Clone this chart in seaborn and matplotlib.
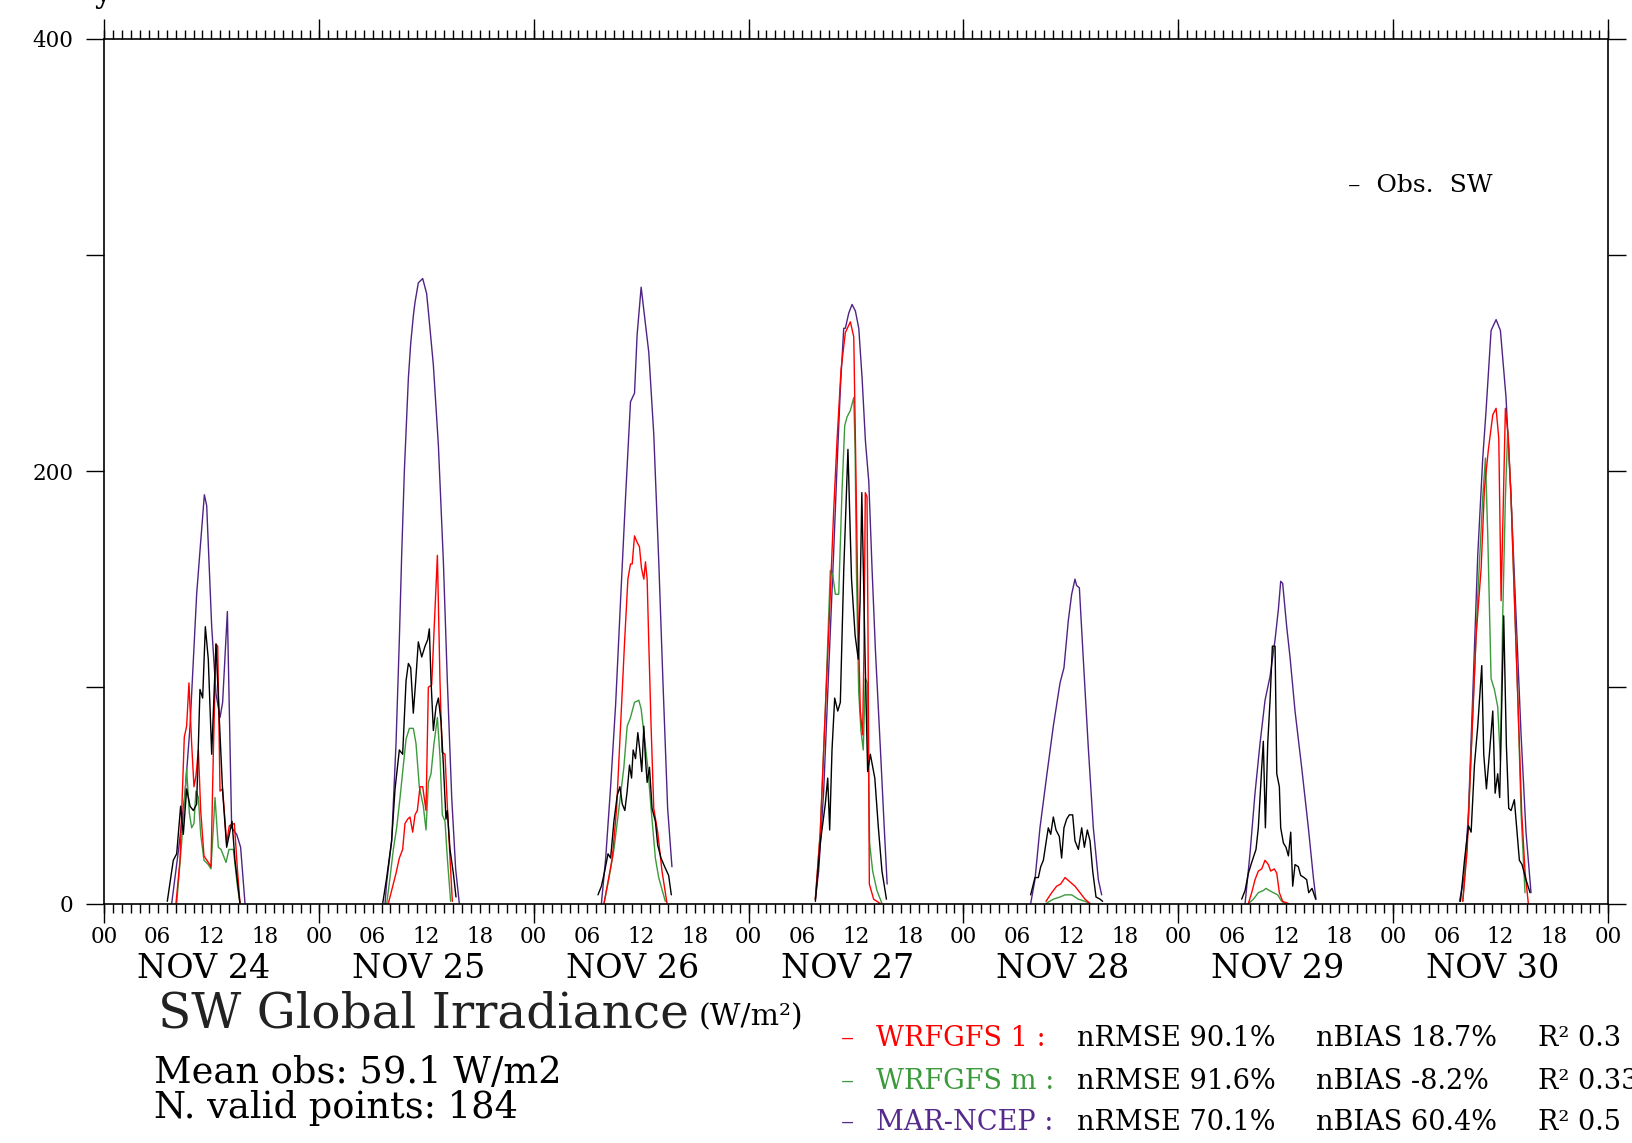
import numpy as np
import pandas as pd
import matplotlib
matplotlib.use("Agg")
import matplotlib.pyplot as plt
import matplotlib.transforms as mtransforms
from matplotlib.ticker import MultipleLocator, FuncFormatter
import seaborn as sns

# ---------------- data (hours within each day, values in W/m2) ----------------
day_labels = ["NOV 24", "NOV 25", "NOV 26", "NOV 27", "NOV 28", "NOV 29", "NOV 30"]
series_names = ["MAR-NCEP", "WRFGFS m", "WRFGFS 1", "Obs. SW"]

obs_hours = [
    [7.07, 7.74, 8.12, 8.56, 8.86, 9.23, 9.61, 9.98, 10.35, 10.72, 11.02, 11.32, 11.65, 12.03, 12.51, 12.84, 13.25, 13.7, 14.0, 14.3, 14.63, 15.19],
    [7.13, 7.58, 8.13, 8.51, 8.99, 9.36, 9.74, 10.0, 10.26, 10.55, 10.82, 11.11, 11.49, 11.86, 12.16, 12.34, 12.53, 12.79, 13.09, 13.35, 13.65, 13.91, 14.2, 14.35, 14.65, 15.02, 15.32],
    [7.18, 7.56, 7.93, 8.3, 8.59, 8.96, 9.33, 9.63, 9.89, 10.18, 10.44, 10.7, 10.93, 11.11, 11.37, 11.63, 11.85, 12.07, 12.3, 12.48, 12.67, 12.93, 13.22, 13.59, 13.85, 14.22, 14.63, 15.07, 15.37],
    [7.46, 8.01, 8.57, 8.84, 9.06, 9.32, 9.62, 9.96, 10.25, 10.63, 11.1, 11.5, 11.9, 12.25, 12.45, 12.65, 13.0, 13.3, 13.6, 14.1, 14.5, 14.9, 15.4],
    [7.51, 7.99, 8.37, 8.63, 8.93, 9.22, 9.48, 9.75, 10.04, 10.34, 10.71, 10.97, 11.23, 11.53, 11.83, 12.2, 12.46, 12.84, 13.21, 13.51, 13.84, 14.14, 14.44, 14.81, 15.26, 15.55],
    [7.08, 7.46, 7.83, 8.2, 8.68, 8.94, 9.32, 9.5, 9.73, 9.99, 10.25, 10.51, 10.81, 11.0, 11.29, 11.44, 11.74, 12.03, 12.3, 12.56, 12.78, 13.04, 13.41, 13.67, 14.05, 14.34, 14.57, 14.94, 15.35],
    [7.52, 7.97, 8.41, 8.71, 9.08, 9.45, 9.9, 10.12, 10.42, 10.75, 11.13, 11.39, 11.68, 11.9, 12.35, 12.65, 12.91, 13.17, 13.54, 13.84, 14.1, 14.4, 14.77, 15.29],
]
obs_values = [
    [1, 20, 23, 45, 32, 53, 45, 43, 46, 99, 95, 128, 113, 69, 120, 89, 52, 26, 32, 38, 20, 0],
    [0, 12, 29, 53, 71, 69, 103, 111, 109, 88, 103, 121, 114, 119, 122, 127, 103, 80, 91, 95, 84, 64, 39, 43, 25, 14, 3],
    [4, 8, 15, 23, 21, 38, 50, 54, 46, 43, 52, 64, 58, 71, 67, 79, 71, 61, 82, 67, 56, 63, 44, 38, 27, 21, 17, 13, 4],
    [1, 28, 46, 58, 34, 71, 95, 89, 93, 154, 210, 150, 124, 113, 139, 190, 117, 61, 69, 58, 35, 15, 2],
    [4, 12, 12, 17, 20, 28, 35, 32, 40, 34, 31, 21, 35, 39, 41, 41, 29, 25, 35, 26, 34, 29, 15, 3, 2, 1],
    [2, 6, 14, 19, 25, 35, 63, 75, 35, 74, 94, 119, 119, 60, 54, 35, 28, 26, 22, 33, 8, 18, 17, 13, 12, 11, 5, 7, 2],
    [1, 20, 36, 33, 64, 82, 110, 69, 53, 69, 89, 51, 60, 49, 133, 73, 44, 43, 48, 33, 20, 18, 12, 5],
]

wrf1_hours = [
    [8.04, 8.49, 8.97, 9.23, 9.49, 9.79, 10.05, 10.27, 10.54, 10.8, 11.17, 11.65, 11.95, 12.21, 12.51, 12.7, 12.96, 13.25, 13.7, 14.0, 14.56, 14.9, 15.19],
    [7.76, 8.13, 8.62, 8.99, 9.36, 9.62, 9.92, 10.18, 10.48, 10.74, 11.0, 11.3, 11.6, 11.97, 12.23, 12.6, 13.24, 13.53, 13.76, 14.09, 14.35, 14.65, 14.91],
    [7.85, 8.3, 8.78, 9.26, 9.7, 10.15, 10.52, 10.81, 11.0, 11.26, 11.55, 11.81, 12.04, 12.3, 12.48, 12.67, 12.85, 13.11, 13.41, 13.85, 14.33, 14.89],
    [7.46, 8.01, 8.57, 9.06, 9.51, 9.88, 10.33, 10.81, 11.37, 11.75, 11.95, 12.22, 12.48, 12.74, 12.89, 13.04, 13.23, 13.34, 13.49, 13.97, 14.7],
    [9.22, 9.86, 10.41, 10.86, 11.35, 11.9, 12.46, 13.02, 13.58, 14.14],
    [7.83, 8.2, 8.57, 8.94, 9.32, 9.69, 10.06, 10.32, 10.73, 11.0, 11.29, 11.66, 12.3],
    [7.78, 8.26, 8.71, 9.27, 9.83, 10.2, 10.64, 11.13, 11.5, 11.8, 12.06, 12.32, 12.54, 12.87, 13.17, 13.54, 13.91, 14.36, 14.73, 15.1],
]
wrf1_values = [
    [0, 20, 77, 82, 102, 74, 54, 59, 71, 43, 22, 19, 17, 69, 120, 119, 52, 53, 28, 36, 37, 16, 0],
    [0, 6, 14, 21, 25, 37, 39, 40, 33, 41, 43, 54, 54, 43, 100, 101, 161, 103, 70, 69, 45, 21, 1],
    [0, 10, 21, 44, 82, 121, 150, 157, 157, 170, 167, 165, 155, 150, 158, 150, 121, 82, 44, 33, 15, 0],
    [2, 33, 89, 136, 182, 214, 247, 264, 269, 262, 210, 136, 89, 78, 117, 190, 188, 126, 9, 2, 0],
    [1, 5, 8, 9, 12, 10, 8, 5, 2, 0],
    [0, 5, 11, 15, 16, 20, 18, 15, 16, 14, 5, 1, 0],
    [1, 24, 69, 124, 155, 192, 210, 226, 229, 215, 140, 188, 229, 215, 188, 142, 97, 42, 15, 0],
]

wrfm_hours = [
    [8.12, 8.67, 9.23, 9.53, 9.79, 10.05, 10.27, 10.54, 10.8, 11.17, 11.65, 11.95, 12.4, 12.77, 13.07, 13.63, 13.96, 14.45, 14.9, 15.19],
    [7.58, 7.95, 8.32, 8.69, 9.07, 9.44, 9.74, 10.11, 10.55, 10.85, 11.22, 11.67, 11.97, 12.23, 12.53, 12.86, 13.24, 13.53, 13.79, 14.09, 14.35, 14.72],
    [7.85, 8.41, 8.96, 9.52, 10.07, 10.44, 10.81, 11.26, 11.74, 12.0, 12.3, 12.74, 13.11, 13.59, 13.96, 14.7],
    [7.46, 8.01, 8.57, 9.13, 9.4, 9.69, 10.07, 10.44, 10.74, 11.0, 11.37, 11.75, 11.9, 12.05, 12.3, 12.55, 12.81, 13.04, 13.26, 13.52, 13.86, 14.34, 14.9],
    [9.22, 10.04, 10.79, 11.35, 12.09, 12.84, 13.58, 14.14],
    [7.83, 8.39, 8.94, 9.5, 9.8, 10.17, 10.62, 11.1, 11.55, 11.92],
    [7.78, 8.34, 8.9, 9.45, 10.01, 10.31, 10.57, 10.94, 11.31, 11.68, 11.98, 12.24, 12.54, 12.8, 13.17, 13.54, 13.91, 14.29, 14.73],
]
wrfm_values = [
    [0, 28, 62, 42, 35, 37, 52, 49, 32, 20, 18, 16, 49, 26, 25, 19, 25, 25, 8, 0],
    [0, 12, 25, 35, 49, 64, 76, 81, 81, 74, 54, 45, 34, 56, 60, 74, 86, 68, 41, 38, 21, 1],
    [0, 12, 25, 44, 63, 82, 86, 93, 94, 90, 79, 63, 44, 21, 12, 1],
    [2, 33, 89, 154, 152, 143, 143, 191, 221, 225, 228, 234, 210, 154, 98, 80, 71, 104, 102, 28, 15, 6, 0],
    [0, 2, 3, 4, 4, 2, 1, 0],
    [0, 2, 5, 6, 7, 6, 5, 4, 1, 0],
    [1, 33, 88, 142, 188, 206, 170, 104, 99, 91, 66, 133, 188, 219, 188, 142, 97, 42, 5],
]

mar_hours = [
    [7.56, 8.3, 9.05, 9.61, 10.35, 10.72, 11.21, 11.47, 12.03, 12.51, 12.96, 13.25, 13.78, 14.26, 14.82, 15.26, 15.75],
    [7.39, 7.58, 8.13, 8.62, 8.99, 9.25, 9.55, 10.0, 10.26, 10.56, 10.74, 11.11, 11.6, 12.04, 12.23, 12.79, 13.35, 13.91, 14.35, 14.84, 15.28, 15.69],
    [7.56, 8.04, 8.59, 9.15, 9.7, 10.26, 10.81, 11.26, 11.55, 12.0, 12.48, 12.85, 13.41, 13.96, 14.44, 14.96, 15.44],
    [7.46, 7.83, 8.39, 8.95, 9.51, 9.88, 10.25, 10.63, 10.81, 11.19, 11.56, 11.93, 12.31, 12.68, 13.05, 13.43, 13.8, 14.17, 14.73, 15.18, 15.48],
    [7.51, 7.99, 8.55, 9.3, 10.04, 10.79, 11.23, 11.72, 12.09, 12.46, 12.65, 12.95, 13.39, 13.95, 14.51, 15.07, 15.44],
    [7.46, 8.01, 8.57, 9.13, 9.69, 10.25, 10.81, 11.18, 11.44, 11.66, 12.11, 12.48, 13.04, 13.78, 14.53, 15.09, 15.38],
    [7.41, 7.97, 8.41, 8.9, 9.45, 10.01, 10.38, 10.94, 11.5, 11.98, 12.61, 13.17, 13.73, 14.29, 14.84, 15.4],
]
mar_values = [
    [0, 24, 51, 82, 143, 163, 189, 184, 128, 97, 86, 93, 135, 35, 32, 26, 0],
    [0, 10, 29, 74, 122, 161, 200, 243, 259, 272, 278, 287, 289, 282, 274, 249, 212, 158, 103, 49, 16, 0],
    [0, 21, 54, 92, 140, 188, 232, 236, 263, 285, 268, 255, 217, 159, 102, 44, 17],
    [2, 15, 52, 108, 163, 202, 238, 266, 266, 273, 277, 274, 266, 243, 214, 195, 154, 117, 71, 33, 9],
    [0, 11, 35, 59, 82, 102, 109, 131, 143, 150, 147, 146, 113, 72, 35, 11, 4],
    [0, 23, 51, 74, 94, 105, 122, 136, 149, 148, 128, 114, 89, 63, 35, 12, 2],
    [1, 13, 42, 97, 161, 206, 228, 265, 270, 265, 234, 188, 133, 78, 33, 5],
]

stats_labels = ["WRFGFS 1 :", "WRFGFS m :", "MAR-NCEP :"]
stats_nrmse = ["90.1%", "91.6%", "70.1%"]
stats_nbias = ["18.7%", "-8.2%", "60.4%"]
stats_r2 = ["0.3", "0.33", "0.5"]
mean_obs = "59.1"
n_valid = "184"

colors = {"MAR-NCEP": "#4f2384", "WRFGFS m": "#3c9a3c",
          "WRFGFS 1": "#ff0000", "Obs. SW": "#000000"}
text_colors = ["#ff0000", "#3c9a3c", "#552a8c"]

# ---------------- build long table ----------------
rows = []
for name, H, V in [("MAR-NCEP", mar_hours, mar_values),
                   ("WRFGFS m", wrfm_hours, wrfm_values),
                   ("WRFGFS 1", wrf1_hours, wrf1_values),
                   ("Obs. SW", obs_hours, obs_values)]:
    for d, (hh, vv) in enumerate(zip(H, V)):
        for h, v in zip(hh, vv):
            rows.append((name, d, 24 * d + h, v))
df = pd.DataFrame(rows, columns=["series", "day", "t", "value"])

# ---------------- figure ----------------
sns.set_theme(style="white")
plt.rcParams['font.family'] = ['DejaVu Serif', 'DejaVu Sans']

W, H = 1632, 1143
fig = plt.figure(figsize=(W / 100, H / 100), dpi=100)
ax = fig.add_axes([104 / W, 1 - 903.5 / H, 1504 / W, 865 / H])

sns.lineplot(data=df, x="t", y="value", hue="series", hue_order=series_names,
             units="day", estimator=None, sort=False, palette=colors,
             linewidth=1.0, legend=False, ax=ax)

ax.set_xlim(0, 168)
ax.set_ylim(0, 400)
ax.set_xlabel("")
ax.set_ylabel("")
for s in ax.spines.values():
    s.set_visible(True)
    s.set_color("black")
    s.set_linewidth(1.2)

# x ticks
ax.xaxis.set_major_locator(MultipleLocator(6))
ax.xaxis.set_minor_locator(MultipleLocator(1))
ax.xaxis.set_major_formatter(FuncFormatter(lambda x, p: f"{int(round(x)) % 24:02d}"))
ax.tick_params(axis="x", which="both", direction="out", bottom=True, top=True,
               length=6.5, width=1.0, color="black")
ax.tick_params(axis="x", which="major", labelsize=15.5, pad=9.5, labeltop=False,
               labelcolor="black")

# y ticks
ax.yaxis.set_major_locator(MultipleLocator(100))
ax.yaxis.set_major_formatter(FuncFormatter(lambda y, p: f"{int(y)}" if int(y) % 200 == 0 else ""))
ax.tick_params(axis="y", which="major", direction="out", left=True, right=True,
               length=13, width=1.0, color="black", labelsize=15.5, pad=9,
               labelcolor="black")

# long day ticks on top and bottom
for loc in ("bottom", "top"):
    sec = ax.secondary_xaxis(loc)
    sec.set_xticks(np.arange(0, 169, 24))
    sec.tick_params(length=13.5, width=1.0, color="black",
                    labelbottom=False, labeltop=False)
    for s in sec.spines.values():
        s.set_visible(False)

# day labels
trans = mtransforms.blended_transform_factory(ax.transData, fig.transFigure)
for d, lab in enumerate(day_labels):
    ax.text(24 * d + 11.1, 1 - 969 / H, lab, transform=trans, ha="center",
            va="center", fontsize=24, color="black")

# obs legend
fig.text(1348 / W, 1 - 192 / H, "–  Obs.  SW", fontsize=18, color="black",
         va="baseline", ha="left")

# bottom texts
fig.text(158 / W, 1 - 1027 / H, "SW Global Irradiance", fontsize=35,
         color="#222222", va="baseline", ha="left")
fig.text(699 / W, 1 - 1025 / H, "(W/m²)", fontsize=21.5, color="black",
         va="baseline", ha="left")
fig.text(154 / W, 1 - 1083 / H, f"Mean obs: {mean_obs} W/m2", fontsize=26.5,
         color="black", va="baseline", ha="left")
fig.text(154 / W, 1 - 1118 / H, f"N. valid points: {n_valid}", fontsize=26.5,
         color="black", va="baseline", ha="left")

row_y = [1046, 1089, 1130]
for i in range(3):
    yb = 1 - row_y[i] / H
    fig.text(841 / W, yb, "–", fontsize=19, color=text_colors[i], va="baseline")
    fig.text(876 / W, yb, stats_labels[i], fontsize=19.5, color=text_colors[i], va="baseline")
    fig.text(1077 / W, yb, f"nRMSE {stats_nrmse[i]}", fontsize=19.5, color="black", va="baseline")
    fig.text(1316 / W, yb, f"nBIAS {stats_nbias[i]}", fontsize=19.5, color="black", va="baseline")
    fig.text(1538 / W, yb, f"R² {stats_r2[i]}", fontsize=19.5, color="black", va="baseline")

# clipped fragment at top-left
fig.text(94 / W, 1 - 2 / H, "y", fontsize=22, color="black", va="baseline")

fig.savefig("out.png", dpi=100)
